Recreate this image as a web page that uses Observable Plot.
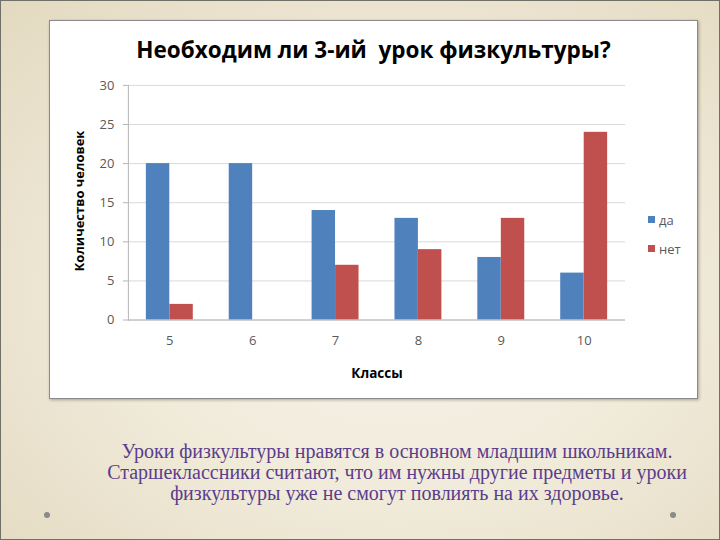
<!DOCTYPE html>
<html><head><meta charset="utf-8">
<script src="https://cdn.jsdelivr.net/npm/d3@7"></script>
<script src="https://cdn.jsdelivr.net/npm/@observablehq/plot@0.6"></script>
<style>
html,body{margin:0;padding:0;}
body{width:720px;height:540px;position:relative;overflow:hidden;
 background: radial-gradient(ellipse at 55% 55%, #f7f4ec 0%, #f0ead9 50%, #e3d9c0 100%);}
#frame{position:absolute;left:0;top:0;width:718px;height:538px;border:1px solid #707068;}
#box{position:absolute;left:49px;top:20px;width:647px;height:377px;background:#fff;border:1px solid #8a8a8a;box-shadow:1px 1px 3px rgba(0,0,0,0.3);}
#chart{position:absolute;left:0;top:0;}
#title{position:absolute;left:0;width:100%;top:13px;text-align:center;white-space:pre;font-family:'Open Sans';font-weight:bold;font-size:22.5px;color:#000;}
#ylab{position:absolute;left:29px;top:180px;transform:translate(-50%,-50%) rotate(-90deg);white-space:nowrap;font-family:'Open Sans';font-weight:bold;font-size:13px;color:#000;}
#xlab{position:absolute;left:327px;top:352px;transform:translate(-50%,-50%);font-family:'Open Sans';font-weight:bold;font-size:13.5px;color:#000;}
#legend{position:absolute;left:598px;top:184px;font-family:'Open Sans';font-size:13px;color:#595959;}
.li{height:29px;display:flex;align-items:center;}
.sw{width:7px;height:7px;margin-right:4px;}
#caption{position:absolute;left:77px;width:640px;top:441px;text-align:center;font-family:'Liberation Serif';font-size:20px;line-height:21px;color:#5a3d8c;}
.dot{position:absolute;width:6px;height:6px;border-radius:50%;background:#8a8a8a;}
</style></head>
<body>
<div id="frame"></div>
<div id="box">
 <div id="chart"></div>
 <div id="title"></div>
 <div id="ylab"></div>
 <div id="xlab"></div>
 <div id="legend"></div>
</div>
<div id="caption"></div>
<div class="dot" style="left:44px;top:512px"></div>
<div class="dot" style="left:670px;top:512px"></div>
<script>
const titleText = "Необходим ли 3-ий  урок физкультуры?";
const yLabel = "Количество человек";
const xLabel = "Классы";
const classes = ["5","6","7","8","9","10"];
const series = ["да","нет"];
const yesValues = [20,20,14,13,8,6];
const noValues = [2,0,7,9,13,24];
const colors = ["#4f81bd","#c0504d"];
const yTicks = [0,5,10,15,20,25,30];
const captionLines = [
 "Уроки физкультуры нравятся в основном младшим школьникам.",
 "Старшеклассники считают, что им нужны другие предметы и уроки",
 "физкультуры уже не смогут повлиять на их здоровье."
];

const W = 648, H = 378, mL = 78, mR = 72, mT = 64, mB = 79;
const padIn = 0.433;
const bw = ((W - mL - mR) / classes.length) * (1 - padIn);

const yes = classes.map((c,i)=>({cls:c, s:series[0], v:yesValues[i]}));
const no = classes.map((c,i)=>({cls:c, s:series[1], v:noValues[i]}));

const plot = Plot.plot({
 width: W, height: H, marginLeft: mL, marginRight: mR, marginTop: mT, marginBottom: mB,
 style: {fontFamily: "'Open Sans'", fontSize: "13px", color: "#595959", background: "transparent", overflow: "visible"},
 x: {domain: classes, paddingInner: padIn, paddingOuter: padIn/2, label: null},
 y: {domain: [0,30], ticks: yTicks, label: null},
 color: {domain: series, range: colors},
 marks: [
  Plot.gridY(yTicks, {stroke: "#d9d9d9", strokeOpacity: 1}),
  Plot.barY(yes, {x: "cls", y: "v", fill: "s", insetRight: bw/2}),
  Plot.barY(no, {x: "cls", y: "v", fill: "s", insetLeft: bw/2}),
  Plot.ruleY([0], {stroke: "#b5b5b5"}),
  Plot.frame({anchor: "left", stroke: "#b5b5b5"}),
  Plot.axisY(yTicks, {tickSize: 5, tickPadding: 9, stroke: "#b5b5b5", label: null}),
  Plot.axisX({tickSize: 0, tickPadding: 16, label: null})
 ]
});
document.getElementById("chart").appendChild(plot);
document.getElementById("title").textContent = titleText;
document.getElementById("ylab").textContent = yLabel;
document.getElementById("xlab").textContent = xLabel;
const leg = document.getElementById("legend");
series.forEach((s,i)=>{
 const d = document.createElement("div"); d.className="li";
 const sw = document.createElement("div"); sw.className="sw"; sw.style.background = colors[i];
 const t = document.createElement("span"); t.textContent = s;
 d.appendChild(sw); d.appendChild(t); leg.appendChild(d);
});
const cap = document.getElementById("caption");
captionLines.forEach(l=>{const d=document.createElement("div"); d.textContent=l; cap.appendChild(d);});
</script>
</body></html>
